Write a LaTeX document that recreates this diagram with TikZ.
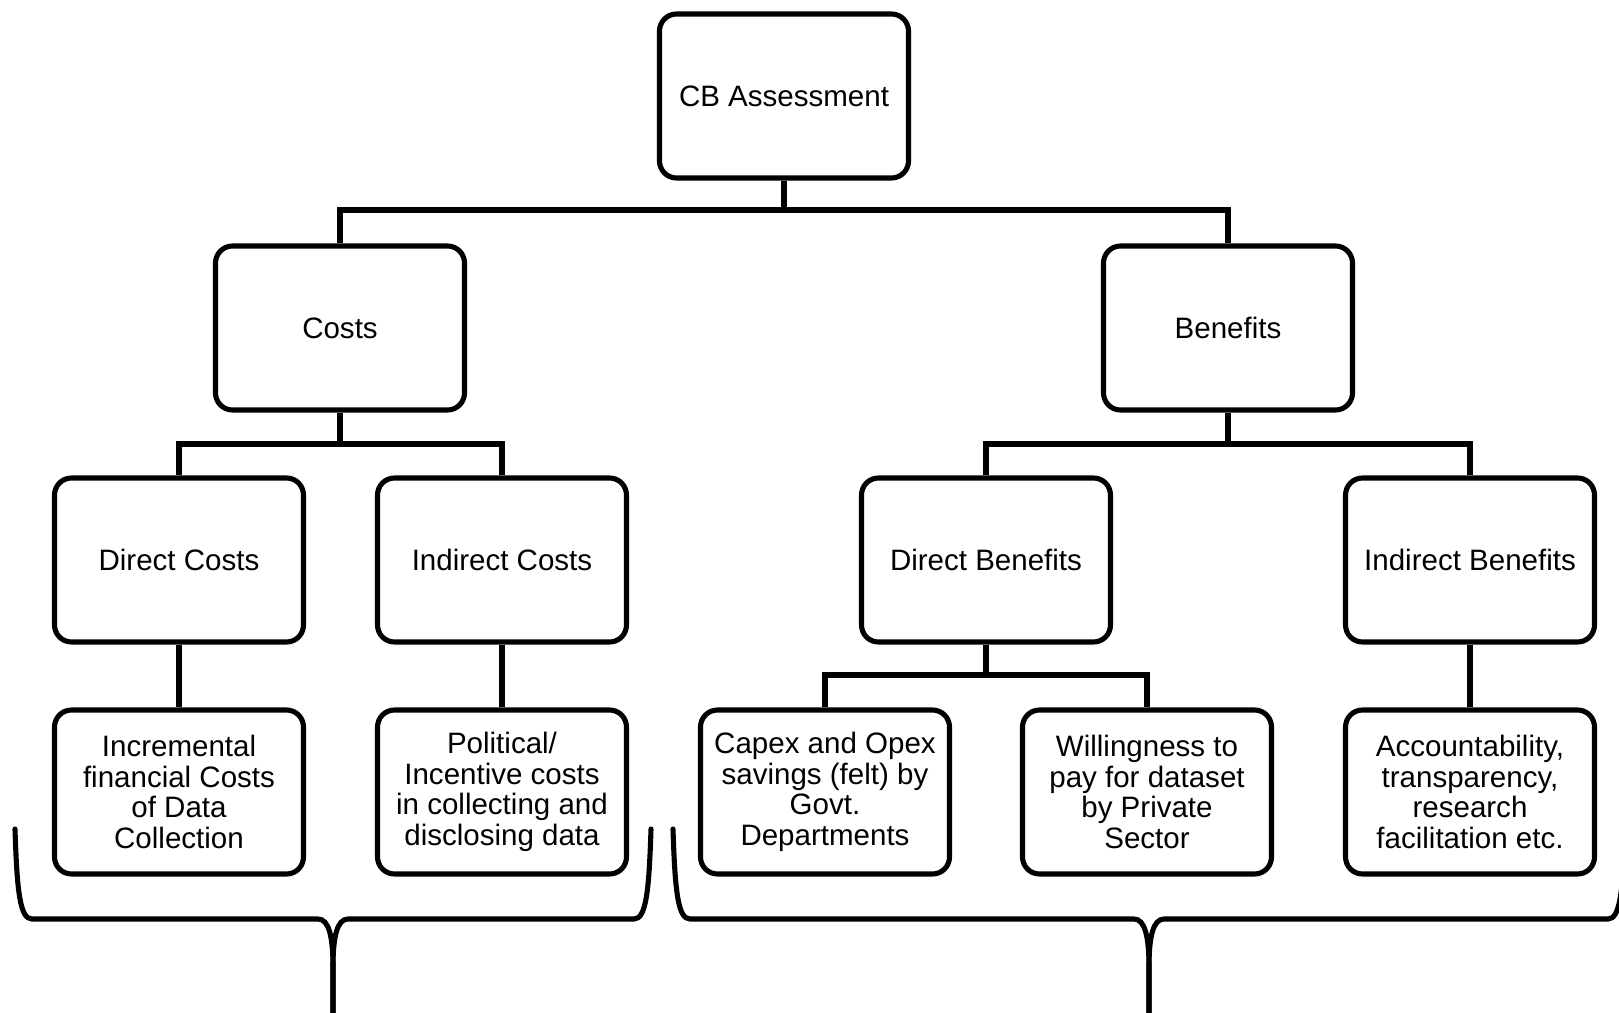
\documentclass[tikz,border=0pt]{standalone}
\usepackage{fontspec}
\setmainfont{Liberation Sans}
\usepackage{tikz}

\tikzset{
	cbbox/.style={draw, line width=1.45pt, rounded corners=0.17cm, minimum width=2.49cm, minimum height=1.64cm, align=center, font=\fontsize{8.4}{8.7}\selectfont},
	link/.style={line width=1.45pt},
	brace/.style={line width=1.45pt, line cap=round}
}

\begin{document}
\begin{tikzpicture}
		\clip (0,0) rectangle (16.19,10.12);
		% boxes
		\node [cbbox] (cb) at (7.84,9.16) {CB Assessment};
		\node [cbbox] (costs) at (3.40,6.84) {Costs};
		\node [cbbox] (benefits) at (12.28,6.84) {Benefits};
		\node [cbbox] (dcost) at (1.79,4.52) {Direct Costs};
		\node [cbbox] (icost) at (5.02,4.52) {Indirect Costs};
		\node [cbbox] (dben) at (9.86,4.52) {Direct Benefits};
		\node [cbbox] (iben) at (14.70,4.52) {Indirect Benefits};
		\node [cbbox] (incr) at (1.79,2.20) {Incremental\\financial Costs\\of Data\\Collection};
		\node [cbbox] (polit) at (5.02,2.20) {Political/\\Incentive costs\\in collecting and\\disclosing data};
		\node [cbbox] (capex) at (8.25,2.20) {Capex and Opex\\savings (felt) by\\Govt.\\Departments};
		\node [cbbox] (willing) at (11.47,2.20) {Willingness to\\pay for dataset\\by Private\\Sector};
		\node [cbbox] (account) at (14.70,2.20) {Accountability,\\transparency,\\research\\facilitation etc.};
		% junctions
		\coordinate (j1) at (7.84,8.02);
		\coordinate (j2) at (3.40,5.68);
		\coordinate (j3) at (12.28,5.68);
		\coordinate (j4) at (9.86,3.37);
		% connectors
		\draw [link] (cb) -- (j1);
		\draw [link] (costs.north) |- (j1) -| (benefits.north);
		\draw [link] (costs) -- (j2);
		\draw [link] (dcost.north) |- (j2) -| (icost.north);
		\draw [link] (benefits) -- (j3);
		\draw [link] (dben.north) |- (j3) -| (iben.north);
		\draw [link] (dcost) -- (incr);
		\draw [link] (icost) -- (polit);
		\draw [link] (dben) -- (j4);
		\draw [link] (capex.north) |- (j4) -| (willing.north);
		\draw [link] (iben) -- (account);
		% braces
		\foreach \l/\m/\r in {0.15/3.33/6.51, 6.73/11.49/16.25}{
			\draw [brace] (\l,1.83) .. controls (\l+0.02,1.2) and (\l+0.05,0.93) .. (\l+0.17,0.93)
				-- (\m-0.15,0.93) .. controls (\m-0.04,0.93) and (\m,0.75) .. (\m,0.45) -- (\m,-0.1);
			\draw [brace] (\r,1.83) .. controls (\r-0.02,1.2) and (\r-0.05,0.93) .. (\r-0.17,0.93)
				-- (\m+0.15,0.93) .. controls (\m+0.04,0.93) and (\m,0.75) .. (\m,0.45) -- (\m,-0.1);
		}
	\end{tikzpicture}
\end{document}
